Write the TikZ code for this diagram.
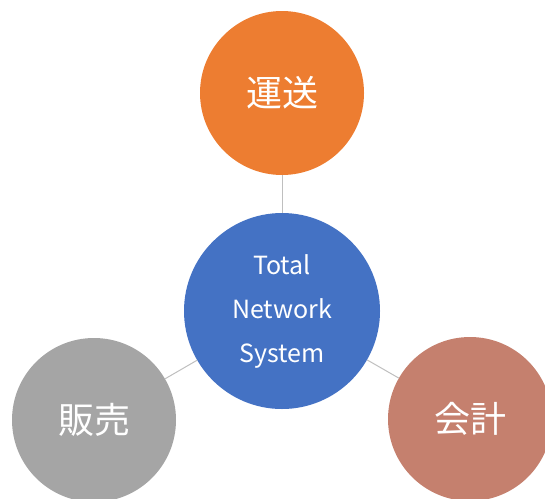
\documentclass[tikz,border=0pt]{standalone}
\usepackage{fontspec}
\setmainfont{Noto Sans CJK JP}
\definecolor{corange}{RGB}{237,125,49}
\definecolor{cblue}{RGB}{68,114,196}
\definecolor{cgray}{RGB}{165,165,165}
\definecolor{cbrown}{RGB}{197,128,110}
\definecolor{cline}{RGB}{191,191,191}
\begin{document}
\begin{tikzpicture}[x=1pt,y=-1pt,
  bub/.style={circle,inner sep=0pt,text=white,minimum size=164pt,font=\fontsize{36}{42}\selectfont},
  hub/.style={circle,inner sep=0pt,text=white,fill=cblue,minimum size=196pt,align=center,font=\fontsize{25}{44}\selectfont},
  link/.style={draw=cline,line width=1pt}]
\useasboundingbox (0,0) rectangle (545,498);
\node[hub] (c) at (282,311) {Total\\Network\\System};
\node[bub,fill=corange] (t) at (282,93) {運送};
\node[bub,fill=cgray] (l) at (94,420) {販売};
\node[bub,fill=cbrown] (r) at (470,419) {会計};
\draw[link] (t) -- (c);
\draw[link] (c) -- (l);
\draw[link] (c) -- (r);
\end{tikzpicture}
\end{document}
